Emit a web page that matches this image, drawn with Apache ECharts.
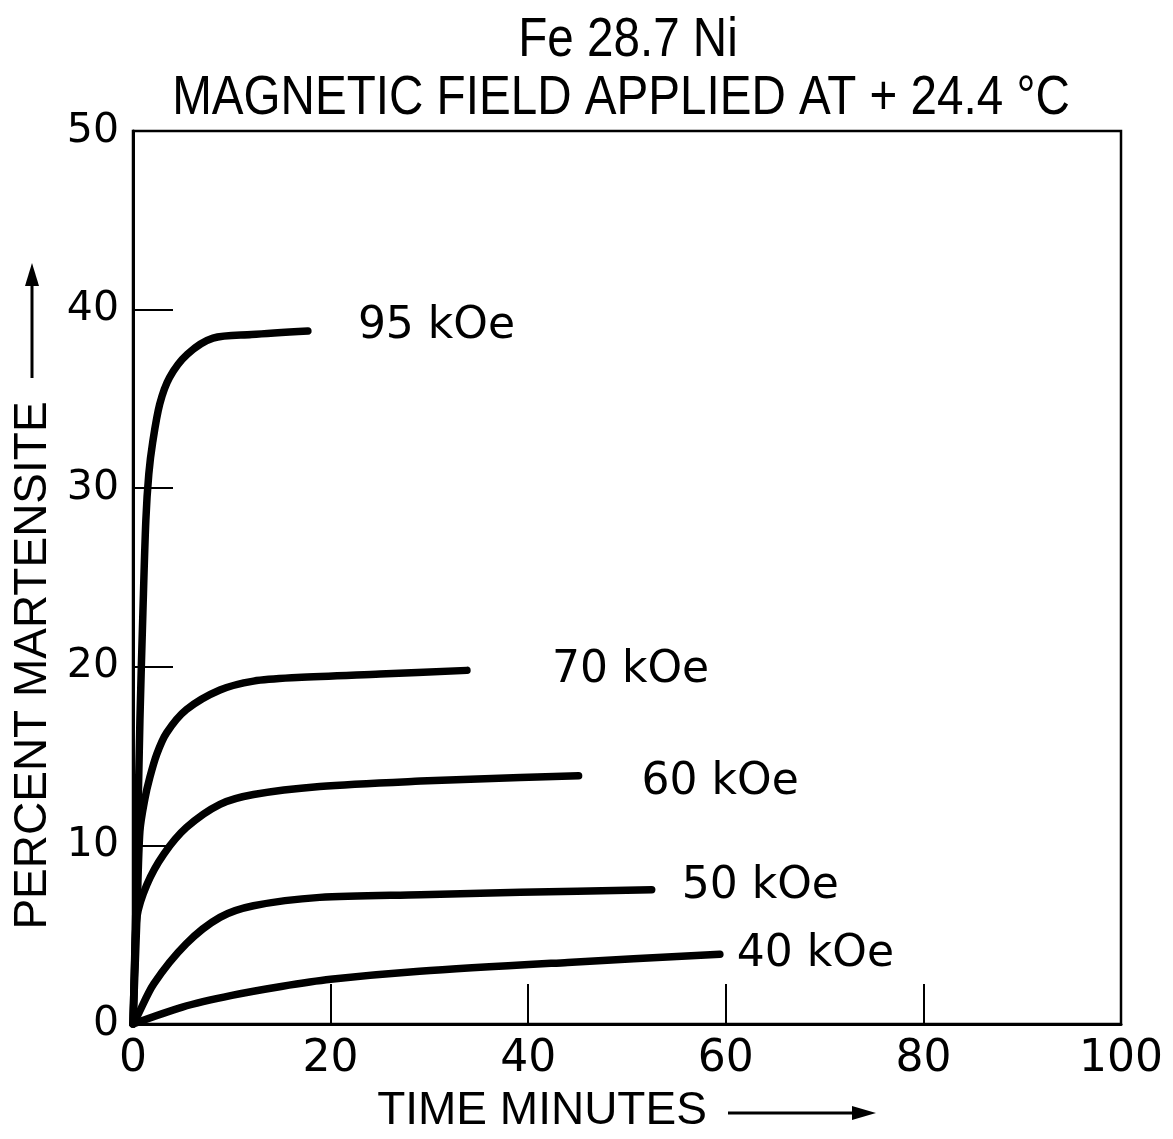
<!DOCTYPE html>
<html>
<head>
<meta charset="utf-8">
<script src="https://cdn.jsdelivr.net/npm/echarts@6/dist/echarts.min.js"></script>
<style>
  html, body { margin: 0; padding: 0; background: #fff; }
  #chart { width: 1173px; height: 1139px; }
</style>
</head>
<body>
<div id="chart"></div>
<script>
// Isothermal martensite formation in Fe-28.7Ni under a pulsed magnetic field
const TITLE_LINE_1 = 'Fe 28.7 Ni';
const TITLE_LINE_2 = 'MAGNETIC FIELD APPLIED AT + 24.4 °C';

const FIELD_LABELS = ['95 kOe', '70 kOe', '60 kOe', '50 kOe', '40 kOe'];

// time (minutes) and percent martensite for each field strength
const TIME_95 = [0, 0.4, 0.7, 1.0, 1.3, 1.6, 2.0, 2.7, 3.7, 5.5, 8.1, 12, 17.7];
const PCT_95  = [0, 9, 17, 23, 28.2, 30.8, 32.6, 34.7, 36.2, 37.5, 38.4, 38.6, 38.8];

const TIME_70 = [0, 0.4, 0.7, 1.2, 1.7, 2.4, 3.4, 5.4, 8.8, 12.2, 16.6, 25, 33.8];
const PCT_70  = [0, 6, 10.8, 12.6, 13.8, 15.1, 16.3, 17.6, 18.7, 19.2, 19.4, 19.6, 19.8];

const TIME_60 = [0, 0.15, 0.4, 1.4, 3.1, 5.4, 8.8, 12.2, 18.9, 29.1, 39.2, 45.1];
const PCT_60  = [0, 3, 6.0, 7.8, 9.5, 11.0, 12.3, 12.85, 13.3, 13.6, 13.8, 13.9];

const TIME_50 = [0, 0.4, 2.1, 5.4, 8.8, 12.2, 18.9, 29.1, 39.2, 52.5];
const PCT_50  = [0, 0.4, 2.25, 4.5, 5.97, 6.62, 7.09, 7.24, 7.37, 7.52];

const TIME_40 = [0, 5, 10, 15, 20, 29, 44, 59.4];
const PCT_40  = [0, 0.95, 1.6, 2.1, 2.5, 2.95, 3.45, 3.9];

const X_TICKS = [0, 20, 40, 60, 80, 100];
const Y_TICKS = [0, 10, 20, 30, 40, 50];

const LABEL_FONT = "'DejaVu Sans', sans-serif";
const LETTER_FONT = "'Liberation Sans', sans-serif";

function pairs(xs, ys) {
  return xs.map((x, i) => [x, ys[i]]);
}

const curves = [
  { name: FIELD_LABELS[0], data: pairs(TIME_95, PCT_95), distance: 50, dy: -4 },
  { name: FIELD_LABELS[1], data: pairs(TIME_70, PCT_70), distance: 85, dy: 0 },
  { name: FIELD_LABELS[2], data: pairs(TIME_60, PCT_60), distance: 63, dy: 7 },
  { name: FIELD_LABELS[3], data: pairs(TIME_50, PCT_50), distance: 30, dy: -3 },
  { name: FIELD_LABELS[4], data: pairs(TIME_40, PCT_40), distance: 17, dy: 0 }
];

const chart = echarts.init(document.getElementById('chart'), null, { renderer: 'canvas' });

// narrow lettering for the two heading lines
function headingText(text, x, y) {
  return {
    type: 'text',
    x: x, y: y,
    scaleX: 0.85,
    style: {
      text: text,
      fontFamily: LETTER_FONT,
      fontSize: 56,
      fill: '#000',
      textAlign: 'center',
      textVerticalAlign: 'middle'
    }
  };
}

const option = {
  backgroundColor: '#fff',
  animation: false,
  grid: {
    left: 133, right: 52, top: 131, bottom: 112,
    show: true, borderColor: '#000', borderWidth: 2.5, backgroundColor: 'transparent'
  },
  xAxis: {
    type: 'value', min: X_TICKS[0], max: X_TICKS[X_TICKS.length - 1], interval: 20,
    name: 'TIME MINUTES', nameLocation: 'middle', nameGap: 64,
    nameTextStyle: { fontFamily: LETTER_FONT, fontSize: 46, color: '#000', padding: [0, 170, 0, 0] },
    axisLine: { show: true, lineStyle: { color: '#000', width: 3 } },
    axisTick: { show: true, inside: true, length: 40, lineStyle: { color: '#000', width: 2 } },
    axisLabel: { fontFamily: LABEL_FONT, fontSize: 44, color: '#000', margin: 14 },
    splitLine: { show: false }
  },
  yAxis: {
    type: 'value', min: Y_TICKS[0], max: Y_TICKS[Y_TICKS.length - 1], interval: 10,
    name: 'PERCENT MARTENSITE', nameLocation: 'middle', nameGap: 77,
    nameTextStyle: { fontFamily: LETTER_FONT, fontSize: 46, color: '#000', padding: [0, 176, 0, 0] },
    axisLine: { show: true, lineStyle: { color: '#000', width: 3 } },
    axisTick: { show: true, inside: true, length: 40, lineStyle: { color: '#000', width: 2 } },
    axisLabel: { fontFamily: LABEL_FONT, fontSize: 41, color: '#000', margin: 14 },
    splitLine: { show: false }
  },
  series: curves.map(c => ({
    type: 'line',
    name: c.name,
    data: c.data,
    smooth: 0.3,
    showSymbol: false,
    symbol: 'none',
    lineStyle: { color: '#000', width: 7.5, cap: 'round', join: 'round' },
    endLabel: {
      show: true,
      formatter: c.name,
      distance: c.distance,
      offset: [0, c.dy],
      fontFamily: LABEL_FONT,
      fontSize: 44,
      color: '#000'
    },
    z: 3
  })),
  graphic: [
    headingText(TITLE_LINE_1, 628, 41),
    headingText(TITLE_LINE_2, 621, 99),
    // arrow beside the y-axis name
    { type: 'line', shape: { x1: 32, y1: 378, x2: 32, y2: 282 }, style: { stroke: '#000', lineWidth: 3 } },
    { type: 'polygon', shape: { points: [[32, 263], [25, 286], [39, 286]] }, style: { fill: '#000' } },
    // arrow after the x-axis name
    { type: 'line', shape: { x1: 728, y1: 1113, x2: 856, y2: 1113 }, style: { stroke: '#000', lineWidth: 3 } },
    { type: 'polygon', shape: { points: [[876, 1113], [852, 1106], [852, 1120]] }, style: { fill: '#000' } }
  ]
};

chart.setOption(option);
</script>
</body>
</html>
